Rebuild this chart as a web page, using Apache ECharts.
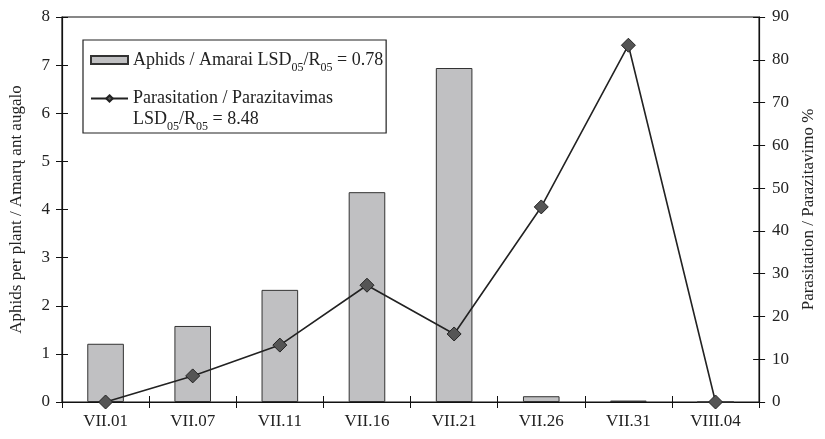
<!DOCTYPE html>
<html><head><meta charset="utf-8">
<script src="https://cdn.jsdelivr.net/npm/echarts@6/dist/echarts.min.js"></script>
<style>html,body{margin:0;padding:0;background:#fff}#c{width:825px;height:439px}</style>
</head><body><div id="c"></div>
<script>
var categories = ['VII.01','VII.07','VII.11','VII.16','VII.21','VII.26','VII.31','VIII.04'];
var aphids = [1.21, 1.58, 2.33, 4.36, 6.94, 0.12, 0.03, 0];
var parasitation = [0, 6.1, 13.3, 27.3, 15.9, 45.6, 83.4, 0];
var leftTicks = [0, 8, 1];
var rightTicks = [0, 90, 10];
var F = '"Liberation Serif", "Times New Roman", serif';
var chart = echarts.init(document.getElementById('c'));
var axisBase = {axisLine:{show:true,lineStyle:{color:'#111',width:1.2}}, splitLine:{show:false}};
var rich = {sub:{fontSize:12, fontFamily:F, color:'#222', verticalAlign:'bottom', lineHeight:21, padding:[0,0,-3,0]}, n:{fontSize:18,fontFamily:F,color:'#222',lineHeight:21}};
chart.setOption({
  animation:false,
  grid:{left:57,right:64,top:17,bottom:37,show:true,borderColor:'#111',borderWidth:1.2,backgroundColor:'transparent'},
  legend:{
    orient:'vertical', left:83, top:40, width:310,
    borderColor:'#222', borderWidth:1.2, padding:[11,3,0,7], itemGap:16,
    itemWidth:37, itemHeight:8,
    textStyle:{fontFamily:F,fontSize:18,color:'#222',rich:rich},
    formatter:function(name){
      if(name==='a') return '{n|Aphids / Amarai LSD}{sub|05}{n|/R}{sub|05}{n| = 0.78}';
      return '{n|Parasitation / Parazitavimas}\n{n|LSD}{sub|05}{n|/R}{sub|05}{n| = 8.48}';
    },
    data:[{name:'a',icon:'rect'},{name:'p', textStyle:{padding:[21,0,0,0]}}]
  },
  xAxis:[
    {type:'category',data:categories,boundaryGap:true,position:'bottom',
     axisLine:{show:true,lineStyle:{color:'#111',width:1.2}},
     axisTick:{show:true,alignWithLabel:false,length:6,lineStyle:{color:'#111'}},
     axisLabel:{fontFamily:F,fontSize:17,color:'#222',margin:11}},
    {type:'category',data:categories,boundaryGap:true,position:'bottom',
     axisLine:{show:false},axisTick:{show:true,inside:true,length:6,lineStyle:{color:'#111'}},axisLabel:{show:false}}
  ],
  yAxis:[
    Object.assign({type:'value',min:leftTicks[0],max:leftTicks[1],interval:leftTicks[2],position:'left',
     name:'Aphids per plant / Amarų ant augalo',nameLocation:'middle',nameGap:37,
     nameTextStyle:{fontFamily:F,fontSize:17,color:'#222'},
     axisTick:{show:true,length:6,lineStyle:{color:'#111'}},
     axisLabel:{fontFamily:F,fontSize:17,color:'#222',margin:12}},axisBase),
    Object.assign({type:'value',min:rightTicks[0],max:rightTicks[1],interval:rightTicks[2],position:'right',
     name:'Parasitation / Parazitavimo %',nameLocation:'middle',nameGap:33,nameRotate:90,
     nameTextStyle:{fontFamily:F,fontSize:17,color:'#222'},
     axisTick:{show:true,length:6,lineStyle:{color:'#111'}},
     axisLabel:{fontFamily:F,fontSize:17,color:'#222',margin:13}},axisBase),
    {type:'value',min:leftTicks[0],max:leftTicks[1],interval:leftTicks[2],position:'left',
     axisLine:{show:false},splitLine:{show:false},axisLabel:{show:false},axisTick:{show:true,inside:true,length:6,lineStyle:{color:'#111'}}},
    {type:'value',min:rightTicks[0],max:rightTicks[1],interval:rightTicks[2],position:'right',
     axisLine:{show:false},splitLine:{show:false},axisLabel:{show:false},axisTick:{show:true,inside:true,length:6,lineStyle:{color:'#111'}}}
  ],
  series:[
    {name:'a',type:'bar',data:aphids,xAxisIndex:0,yAxisIndex:0,barWidth:'42%',
     itemStyle:{color:'#c0c0c2',borderColor:'#333',borderWidth:1}},
    {name:'p',type:'line',data:parasitation,xAxisIndex:0,yAxisIndex:1,
     symbol:'diamond',symbolSize:14,
     lineStyle:{color:'#222',width:1.6},
     itemStyle:{color:'#555',borderColor:'#222',borderWidth:1}}
  ]
});
</script></body></html>
